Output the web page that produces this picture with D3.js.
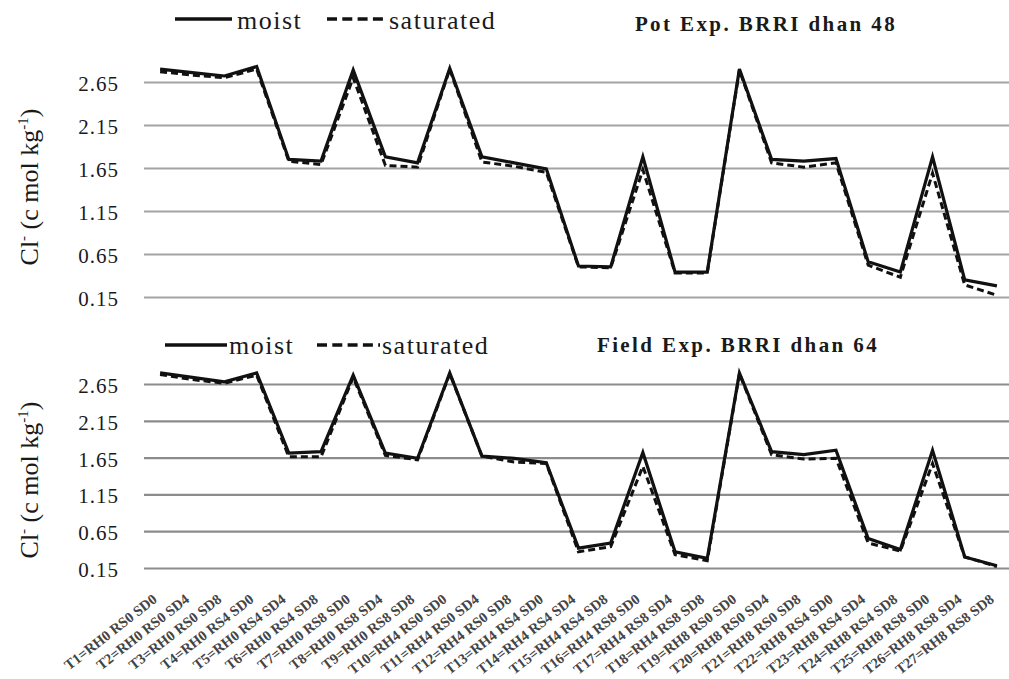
<!DOCTYPE html>
<html>
<head>
<meta charset="utf-8">
<script src="https://cdn.jsdelivr.net/npm/d3@7"></script>
<style>
  body { margin: 0; background: #fff; }
</style>
</head>
<body>
<div id="chart"></div>
<script>
const SERIF = 'Liberation Serif';

// treatments T1..T27
const treatments = [
  "T1=RH0 RS0 SD0", "T2=RH0 RS0 SD4", "T3=RH0 RS0 SD8",
  "T4=RH0 RS4 SD0", "T5=RH0 RS4 SD4", "T6=RH0 RS4 SD8",
  "T7=RH0 RS8 SD0", "T8=RH0 RS8 SD4", "T9=RH0 RS8 SD8",
  "T10=RH4 RS0 SD0", "T11=RH4 RS0 SD4", "T12=RH4 RS0 SD8",
  "T13=RH4 RS4 SD0", "T14=RH4 RS4 SD4", "T15=RH4 RS4 SD8",
  "T16=RH4 RS8 SD0", "T17=RH4 RS8 SD4", "T18=RH4 RS8 SD8",
  "T19=RH8 RS0 SD0", "T20=RH8 RS0 SD4", "T21=RH8 RS0 SD8",
  "T22=RH8 RS4 SD0", "T23=RH8 RS4 SD4", "T24=RH8 RS4 SD8",
  "T25=RH8 RS8 SD0", "T26=RH8 RS8 SD4", "T27=RH8 RS8 SD8"
];

const yTicks = [0.15, 0.65, 1.15, 1.65, 2.15, 2.65];

// Pot experiment, BRRI dhan 48
const potMoist = [2.80, 2.76, 2.72, 2.83, 1.75, 1.73, 2.79, 1.78, 1.71,
  2.81, 1.78, 1.71, 1.64, 0.51, 0.50, 1.78, 0.44, 0.44,
  2.80, 1.75, 1.73, 1.76, 0.56, 0.44, 1.78, 0.35, 0.28];
const potSaturated = [2.77, 2.73, 2.70, 2.80, 1.73, 1.69, 2.70, 1.68, 1.66,
  2.80, 1.72, 1.67, 1.60, 0.50, 0.49, 1.63, 0.43, 0.43,
  2.79, 1.71, 1.66, 1.71, 0.52, 0.38, 1.59, 0.29, 0.17];

// Field experiment, BRRI dhan 64
const fieldMoist = [2.80, 2.74, 2.68, 2.80, 1.71, 1.73, 2.77, 1.71, 1.64,
  2.80, 1.67, 1.64, 1.58, 0.42, 0.49, 1.72, 0.37, 0.28,
  2.80, 1.73, 1.69, 1.75, 0.55, 0.40, 1.75, 0.30, 0.18];
const fieldSaturated = [2.78, 2.71, 2.66, 2.77, 1.66, 1.66, 2.74, 1.68, 1.62,
  2.79, 1.67, 1.59, 1.57, 0.37, 0.44, 1.53, 0.33, 0.25,
  2.79, 1.69, 1.63, 1.64, 0.49, 0.38, 1.57, 0.30, 0.17];

const width = 1009, height = 679;

const svg = d3.select('#chart').append('svg')
    .attr('width', width)
    .attr('height', height)
    .attr('font-family', SERIF);

const x = d3.scaleBand()
    .domain(treatments)
    .range([144, 1013]);
const cx = d => x(d) + x.bandwidth() / 2;

const panels = [
  {title: 'Pot Exp. BRRI dhan 48', moist: potMoist, sat: potSaturated,
   yRange: [297, 82], grid: '#a3a3a3',
   legend: {y: 19, solid: [175, 232], dash: [327, 383], moistX: 237, satX: 389, textY: 29},
   titleX: 766, titleY: 31, labelY: 187},
  {title: 'Field Exp. BRRI dhan 64', moist: fieldMoist, sat: fieldSaturated,
   yRange: [568, 384], grid: '#8c8c8c',
   legend: {y: 345, solid: [165, 227], dash: [317, 380], moistX: 229, satX: 382, textY: 354},
   titleX: 738, titleY: 352, labelY: 480}
];

panels.forEach((p, i) => {
  const y = d3.scaleLinear().domain([0.15, 2.65]).range(p.yRange);

  // gridlines + tick labels
  const g = svg.append('g')
      .attr('transform', 'translate(144,0)')
      .call(d3.axisLeft(y).tickValues(yTicks).tickFormat(d3.format('.2f'))
        .tickSize(-(width - 144)).tickPadding(25));
  g.attr('font-family', SERIF).attr('font-size', 21);
  g.select('.domain').remove();
  g.selectAll('line').attr('stroke', p.grid).attr('stroke-width', 2.2);
  g.selectAll('text').attr('fill', '#1a1a1a').attr('letter-spacing', 1).attr('dy', '0.4em');

  // y-axis label
  const lab = svg.append('text')
      .attr('transform', `translate(38,${p.labelY}) rotate(-90)`)
      .attr('text-anchor', 'middle')
      .attr('font-size', 26)
      .attr('fill', '#1a1a1a');
  lab.append('tspan').text('Cl');
  lab.append('tspan').attr('dy', -10).attr('font-size', 15).text('-');
  lab.append('tspan').attr('dy', 10).text(' (c mol kg');
  lab.append('tspan').attr('dy', -10).attr('font-size', 15).text('-1');
  lab.append('tspan').attr('dy', 10).text(')');

  const line = d3.line()
      .x((d, j) => cx(treatments[j]))
      .y(d => y(d));

  svg.append('path')
      .datum(p.sat)
      .attr('fill', 'none')
      .attr('stroke', '#111')
      .attr('stroke-width', 3)
      .attr('stroke-dasharray', '7,4')
      .attr('d', line);

  svg.append('path')
      .datum(p.moist)
      .attr('fill', 'none')
      .attr('stroke', '#111')
      .attr('stroke-width', 3.2)
      .attr('d', line);

  // legend
  const L = p.legend;
  svg.append('line').attr('x1', L.solid[0]).attr('x2', L.solid[1]).attr('y1', L.y).attr('y2', L.y)
      .attr('stroke', '#111').attr('stroke-width', 3.5);
  svg.append('text').attr('x', L.moistX).attr('y', L.textY).attr('font-size', 26)
      .attr('letter-spacing', 1.5).attr('fill', '#1a1a1a').text('moist');
  svg.append('line').attr('x1', L.dash[0]).attr('x2', L.dash[1]).attr('y1', L.y).attr('y2', L.y)
      .attr('stroke', '#111').attr('stroke-width', 3.5).attr('stroke-dasharray', '10,5.3');
  svg.append('text').attr('x', L.satX).attr('y', L.textY).attr('font-size', 26)
      .attr('letter-spacing', 1.5).attr('fill', '#1a1a1a').text('saturated');

  // panel title
  svg.append('text')
      .attr('x', p.titleX)
      .attr('y', p.titleY)
      .attr('text-anchor', 'middle')
      .attr('font-size', 21)
      .attr('font-weight', 'bold')
      .attr('letter-spacing', 2.4)
      .attr('fill', '#1a1a1a')
      .text(p.title);

  // category labels only under the lower panel
  if (i === 1) {
    svg.append('g')
        .selectAll('text')
        .data(treatments)
        .join('text')
        .attr('transform', d => `translate(${cx(d) - 2},${601}) rotate(-38)`)
        .attr('text-anchor', 'end')
        .attr('font-size', 14.5)
        .attr('font-weight', 'bold')
        .attr('fill', '#444')
        .text(d => d);
  }
});
</script>
</body>
</html>
